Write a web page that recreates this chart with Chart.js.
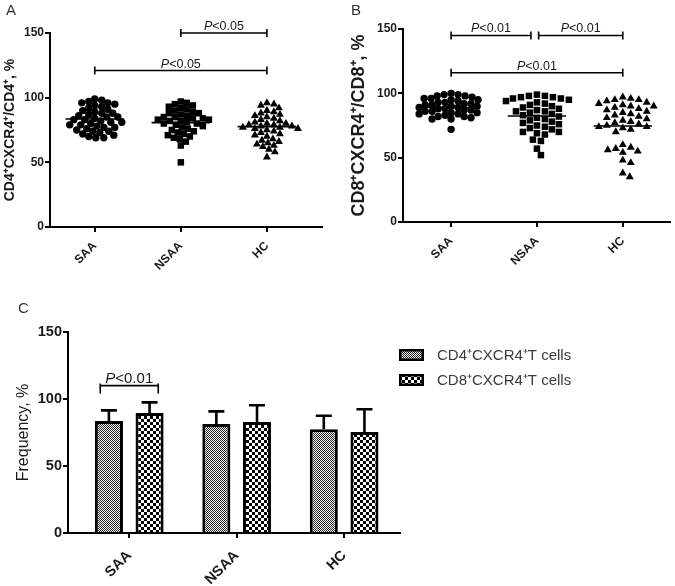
<!DOCTYPE html>
<html>
<head>
<meta charset="utf-8">
<script src="https://cdn.jsdelivr.net/npm/chart.js@4.4.0/dist/chart.umd.min.js"></script>
<style>
  body { margin: 0; background: #fff; width: 675px; height: 586px; position: relative; overflow: hidden; font-family: "Liberation Sans", Arial, sans-serif; }
  .box { position: absolute; }
  .tag { position: absolute; font-size: 15px; color: #333; }
</style>
</head>
<body>
<div class="box" style="left:0;top:0"><canvas id="chartA" width="330" height="285"></canvas></div>
<div class="box" style="left:330px;top:0"><canvas id="chartB" width="345" height="285"></canvas></div>
<div class="box" style="left:0;top:290px"><canvas id="chartC" width="675" height="296"></canvas></div>
<div class="tag" style="left:6px;top:1px">A</div>
<div class="tag" style="left:351px;top:1px">B</div>
<div class="tag" style="left:18px;top:299px">C</div>
<script>
const groups = ["SAA", "NSAA", "HC"];

// panel A: CD4+CXCR4+/CD4+, %
const cd4SAA = [99, 98, 97, 96, 96, 95, 94, 93, 92, 91, 90, 89, 88, 88, 87, 86, 85, 85, 84, 83, 83, 82, 81, 81, 80, 79, 79, 78, 77, 77, 76, 75, 74, 74, 73, 72, 71, 70, 69, 69];
const cd4NSAA = [97, 96, 95, 94, 93, 92, 91, 90, 89, 88, 88, 87, 86, 85, 85, 84, 84, 83, 83, 82, 82, 81, 80, 80, 79, 78, 77, 76, 75, 74, 73, 72, 71, 70, 69, 68, 66, 63, 50];
const cd4HC = [96, 95, 94, 92, 90, 89, 88, 87, 86, 85, 84, 83, 82, 81, 80, 80, 79, 79, 78, 78, 77, 77, 76, 76, 75, 74, 73, 72, 71, 70, 68, 67, 66, 65, 64, 63, 62, 60, 58, 54];
const cd4Means = [83.5, 80.7, 77.6];

// panel B: CD8+CXCR4+/CD8+, %
const cd8SAA = [100, 99, 99, 98, 98, 97, 96, 96, 95, 95, 94, 93, 93, 92, 92, 91, 91, 90, 90, 89, 89, 88, 88, 87, 87, 86, 86, 85, 85, 84, 84, 83, 82, 82, 81, 80, 80, 72];
const cd8NSAA = [99, 98, 98, 97, 97, 96, 96, 95, 94, 93, 92, 91, 90, 89, 88, 87, 86, 86, 85, 84, 83, 82, 81, 80, 79, 78, 77, 76, 75, 74, 73, 72, 70, 70, 69, 68, 64, 63, 57, 52];
const cd8HC = [97, 96, 95, 95, 94, 93, 92, 91, 90, 90, 89, 88, 87, 86, 85, 84, 83, 82, 81, 80, 79, 78, 77, 76, 75, 74, 74, 73, 72, 70, 60, 58, 57, 56, 55, 54, 48, 46, 38, 35];
const cd8Means = [89, 82.4, 74.6];

// panel C: mean + SD
const barCD4 = [83.5, 81.3, 77.5];
const sdCD4 = [8, 9.5, 10];
const barCD8 = [89.5, 82.8, 75.4];
const sdCD8 = [8, 12.5, 17];

const yTicks = [0, 50, 100, 150];

const bracketsA = [
    { from: 1, to: 2, y: 150, label: "<0.05" },
    { from: 0, to: 2, y: 121, label: "<0.05" },
];
const bracketsB = [
    { from: 0, to: 0.93, y: 145, label: "<0.01" },
    { from: 1.02, to: 2, y: 145, label: "<0.01" },
    { from: 0, to: 2, y: 116, label: "<0.01" },
];
const bracketsC = [{ from: -0.27, to: 0.27, y: 110, label: "<0.01" }];

const FONT = "'Liberation Sans', Arial, sans-serif";
Chart.defaults.font.family = FONT;
Chart.defaults.color = "#1a1a1a";

// spread one column of dots sideways (beeswarm), px approx: 86px per group, 194px per 150 units
function spread(values, center, size) {
    const pxPerX = 86, pxPerY = 194 / 150;
    const placed = [];
    return values.map((v) => {
        const py = v * pxPerY;
        let k = 0, dx = 0;
        while (true) {
            dx = (k % 2 ? 1 : -1) * Math.ceil(k / 2) * 1;
            if (placed.every((p) => Math.hypot(p.px - dx, p.py - py) >= size)) break;
            k++;
        }
        placed.push({ px: dx, py: py });
        return { x: center + dx / pxPerX, y: v };
    });
}

function drawBracket(ctx, xs, ys, b, fontSize, capUp, capDown) {
    const x1 = xs.getPixelForValue(b.from);
    const x2 = xs.getPixelForValue(b.to);
    const py = ys.getPixelForValue(b.y);
    ctx.lineWidth = 1.6;
    ctx.beginPath();
    ctx.moveTo(x1, py);
    ctx.lineTo(x2, py);
    ctx.moveTo(x1, py - capUp);
    ctx.lineTo(x1, py + capDown);
    ctx.moveTo(x2, py - capUp);
    ctx.lineTo(x2, py + capDown);
    ctx.stroke();
    ctx.font = "italic " + fontSize + "px " + FONT;
    const wP = ctx.measureText("P").width;
    ctx.font = fontSize + "px " + FONT;
    const wRest = ctx.measureText(b.label).width;
    let tx = (x1 + x2) / 2 - (wP + wRest) / 2;
    ctx.textBaseline = "alphabetic";
    ctx.textAlign = "left";
    ctx.font = "italic " + fontSize + "px " + FONT;
    ctx.fillText("P", tx, py - 3);
    ctx.font = fontSize + "px " + FONT;
    ctx.fillText(b.label, tx + wP, py - 3);
}

const marks = {
    id: "marks",
    afterDatasetsDraw(chart, args, opts) {
        const ctx = chart.ctx;
        const xs = chart.scales.x, ys = chart.scales.y;
        ctx.save();
        ctx.strokeStyle = "#000";
        ctx.fillStyle = "#1a1a1a";
        (opts.means || []).forEach((m, i) => {
            const py = ys.getPixelForValue(m);
            ctx.lineWidth = 1.6;
            ctx.beginPath();
            ctx.moveTo(xs.getPixelForValue(i - 0.34), py);
            ctx.lineTo(xs.getPixelForValue(i + 0.34), py);
            ctx.stroke();
        });
        (opts.brackets || []).forEach((b) => drawBracket(ctx, xs, ys, b, 12.5, 4, 4));
        ctx.restore();
    },
};

function axes(o) {
    return {
        x: {
            type: "linear",
            min: o.xMin,
            max: o.xMax,
            offset: false,
            afterBuildTicks: (s) => { s.ticks = groups.map((g, i) => ({ value: i })); },
            afterFit: (s) => { s.height = o.xHeight; },
            border: { display: true, color: "#000", width: 2 },
            grid: { offset: false, drawOnChartArea: false, color: "#000", lineWidth: 2, tickLength: 5 },
            ticks: {
                minRotation: 45, maxRotation: 45, autoSkip: false, padding: o.xPad,
                font: { size: o.tickSize, weight: "bold" },
                callback: (v) => groups[v],
            },
        },
        y: {
            min: 0,
            max: 150,
            afterBuildTicks: (s) => { s.ticks = yTicks.map((v) => ({ value: v })); },
            afterFit: (s) => { s.width = o.yWidth; },
            border: { display: true, color: "#000", width: 2 },
            grid: { drawOnChartArea: false, color: "#000", lineWidth: 2, tickLength: 5 },
            ticks: { padding: 1, font: { size: o.tickSize, weight: "bold" } },
            title: {
                display: true,
                text: o.title,
                font: { size: o.titleSize, weight: o.titleWeight || "bold" },
                padding: { top: o.titlePad, bottom: 0 },
            },
        },
    };
}

function dotSet(data, style, radius) {
    return {
        data: data,
        pointStyle: style,
        pointRadius: radius,
        backgroundColor: "#000",
        borderColor: "#000",
        borderWidth: 0,
    };
}

new Chart(document.getElementById("chartA"), {
    type: "scatter",
    data: {
        datasets: [
            dotSet(spread(cd4SAA, 0, 6.3), "circle", 3.7),
            dotSet(spread(cd4NSAA, 1, 6.0), "rect", 4.6),
            dotSet(spread(cd4HC, 2, 6.2), "triangle", 4.6),
        ],
    },
    options: {
        responsive: false,
        animation: false,
        layout: { padding: { top: 33, right: 8, left: 0, bottom: 0 } },
        plugins: { legend: { display: false }, tooltip: { enabled: false }, marks: { means: cd4Means, brackets: bracketsA } },
        scales: axes({ xMin: -0.52, xMax: 2.64, xHeight: 58, yWidth: 50, tickSize: 12, xPad: 7, title: "CD4⁺CXCR4⁺/CD4⁺, %", titleSize: 14, titlePad: 2 }),
    },
    plugins: [marks],
});

new Chart(document.getElementById("chartB"), {
    type: "scatter",
    data: {
        datasets: [
            dotSet(spread(cd8SAA, 0, 6.3), "circle", 3.7),
            dotSet(spread(cd8NSAA, 1, 7.4), "rect", 4.6),
            dotSet(spread(cd8HC, 2, 7.6), "triangle", 4.6),
        ],
    },
    options: {
        responsive: false,
        animation: false,
        layout: { padding: { top: 29, right: 5, left: 0, bottom: 0 } },
        plugins: { legend: { display: false }, tooltip: { enabled: false }, marks: { means: cd8Means, brackets: bracketsB } },
        scales: axes({ xMin: -0.56, xMax: 2.55, xHeight: 63, yWidth: 73, tickSize: 12, xPad: 7, title: "CD8⁺CXCR4⁺/CD8⁺, %", titleSize: 18, titlePad: 18 }),
    },
    plugins: [marks],
});

// fill patterns for the bars
function checker(cell, fg) {
    const c = document.createElement("canvas");
    c.width = c.height = cell * 2;
    const g = c.getContext("2d");
    g.fillStyle = "#fff";
    g.fillRect(0, 0, cell * 2, cell * 2);
    g.fillStyle = fg;
    g.fillRect(0, 0, cell, cell);
    g.fillRect(cell, cell, cell, cell);
    return g.createPattern(c, "repeat");
}
const fineFill = checker(1, "#222");
const coarseFill = checker(3, "#000");

const barExtras = {
    id: "barExtras",
    afterDatasetsDraw(chart) {
        const ctx = chart.ctx, ys = chart.scales.y;
        ctx.save();
        ctx.strokeStyle = "#000";
        ctx.lineWidth = 2.6;
        chart.data.datasets.forEach((ds, di) => {
            chart.getDatasetMeta(di).data.forEach((bar, j) => {
                const top = ys.getPixelForValue(ds.data[j].y + ds.sd[j]);
                ctx.beginPath();
                ctx.moveTo(bar.x, bar.y);
                ctx.lineTo(bar.x, top);
                ctx.moveTo(bar.x - 8, top);
                ctx.lineTo(bar.x + 8, top);
                ctx.stroke();
            });
        });
        ctx.fillStyle = "#1a1a1a";
        ctx.strokeStyle = "#000";
        drawBracket(ctx, chart.scales.x, ys, bracketsC[0], 15, 2, 8);
        // legend
        const area = chart.chartArea;
        chart.data.datasets.forEach((ds, di) => {
            const bx = area.right - 1, by = area.top + 17 + di * 25;
            ctx.fillStyle = ds.backgroundColor;
            ctx.fillRect(bx, by, 25, 12);
            ctx.lineWidth = 2.5;
            ctx.strokeRect(bx + 1.25, by + 1.25, 22.5, 9.5);
            ctx.fillStyle = "#3a3a3a";
            ctx.font = "15px " + FONT;
            ctx.textBaseline = "middle";
            ctx.fillText(ds.label, bx + 38, by + 7);
        });
        ctx.restore();
    },
};

new Chart(document.getElementById("chartC"), {
    type: "bar",
    data: {
        datasets: [
            { label: "CD4⁺CXCR4⁺T cells", data: barCD4.map((v, i) => ({ x: i, y: v })), sd: sdCD4, backgroundColor: fineFill, borderColor: "#000", borderWidth: 3 },
            { label: "CD8⁺CXCR4⁺T cells", data: barCD8.map((v, i) => ({ x: i, y: v })), sd: sdCD8, backgroundColor: coarseFill, borderColor: "#000", borderWidth: 3 },
        ],
    },
    options: {
        responsive: false,
        animation: false,
        categoryPercentage: 0.757,
        barPercentage: 0.69,
        layout: { padding: { top: 42, right: 275, left: 0, bottom: 0 } },
        plugins: { legend: { display: false }, tooltip: { enabled: false } },
        scales: axes({ xMin: -0.57, xMax: 2.52, xHeight: 53, yWidth: 68, tickSize: 14.5, xPad: 9, title: "Frequency, %", titleSize: 16, titleWeight: "normal", titlePad: 14 }),
    },
    plugins: [barExtras],
});
</script>
</body>
</html>
